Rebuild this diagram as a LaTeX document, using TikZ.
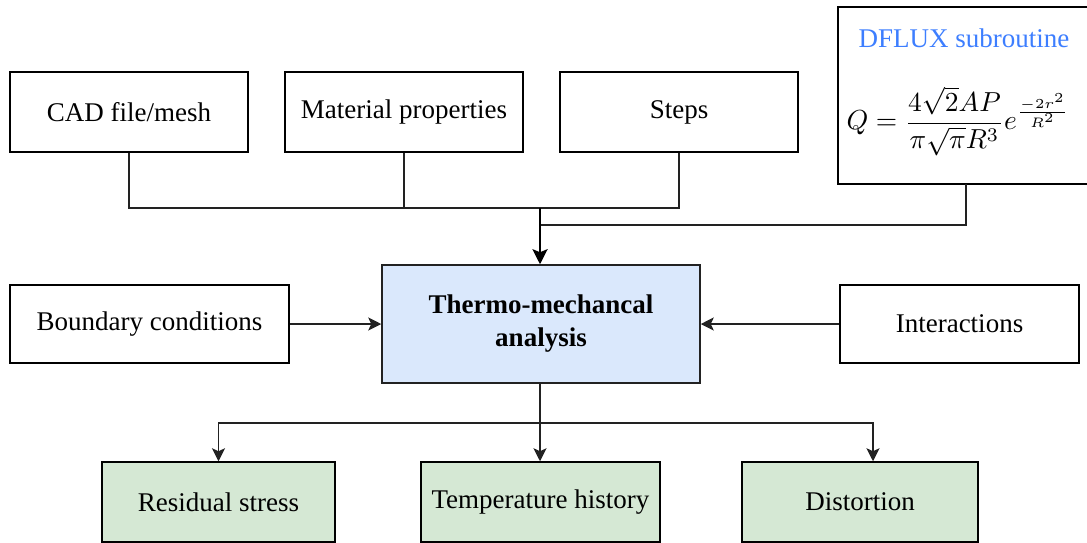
\documentclass[tikz,border=0pt]{standalone}
\usepackage{fontspec}
\setmainfont{Liberation Serif}
\usetikzlibrary{arrows.meta}
\definecolor{lineclr}{HTML}{222222}
\definecolor{blueclr}{HTML}{DAE8FC}
\definecolor{greenclr}{HTML}{D5E8D4}
\definecolor{titleclr}{HTML}{3D7EFF}
\begin{document}
\begin{tikzpicture}[x=1pt,y=-1pt,
  box/.style={draw=black,line width=1.5pt,rectangle,align=center,
    font=\fontsize{27}{33}\selectfont,inner sep=0pt},
  inbox/.style={box,minimum width=238pt,minimum height=80pt},
  mainbox/.style={box,fill=blueclr,draw=lineclr,minimum width=318pt,minimum height=118pt,
    font=\fontsize{27}{33}\selectfont\bfseries},
  outbox/.style={box,fill=greenclr,minimum height=80pt},
  link/.style={draw=lineclr,line width=1.6pt},
  arr/.style={link,-{Stealth[length=13pt,width=13pt,inset=3pt]}},
  trunk/.style={draw=black,line width=2.6pt,-{Stealth[length=15pt,width=15pt,inset=3pt]}}
]
\useasboundingbox (0,0) rectangle (1087,542);

% input boxes, top row
\node[inbox] (cad)   at (129,112) {CAD file/mesh};
\node[inbox] (mat)   at (404,112) {Material properties};
\node[inbox] (steps) at (679,112) {Steps};

% heat source subroutine: frame, title and formula
\draw[line width=1.5pt] (838,7) rectangle (1096,184);
\coordinate (dflux) at (966,184);
\node[font=\fontsize{27}{33}\selectfont,text=titleclr,inner sep=0pt] (dtitle) at (964,38) {DFLUX subroutine};
\node[inner sep=0pt] (dform) at (958,121)
  {\scalebox{2.75}{$\displaystyle Q=\frac{4\sqrt{2}AP}{\pi\sqrt{\pi}R^3}e^{\frac{-2r^2}{R^2}}$}};

% central analysis and side inputs
\node[mainbox] (thermo) at (541,324) {Thermo-mechancal\\analysis};
\node[inbox,minimum width=279pt,minimum height=78pt] (bc) at (149.5,324) {Boundary conditions};
\node[inbox,minimum width=239pt,minimum height=78pt] (inter) at (959.5,324) {Interactions};

% results
\node[outbox,minimum width=233pt] (res)  at (218.5,502) {Residual stress};
\node[outbox,minimum width=239pt] (temp) at (540.5,502) {Temperature history};
\node[outbox,minimum width=236pt] (dist) at (860,502) {Distortion};

% junction points
\coordinate (j1) at (540,208);
\coordinate (j2) at (540,225);
\coordinate (j3) at (540,423);

% gathering lines
\draw[link] (cad.south) |- (j1);
\draw[link] (mat.south) |- (j1);
\draw[link] (steps.south) |- (j1);
\draw[link] (dflux) |- (j2);
\draw[trunk] (j1) -- (j1 |- thermo.north);

% side arrows
\draw[arr] (bc.east) -- (thermo.west);
\draw[arr] (inter.west) -- (thermo.east);

% outputs
\draw[link] (thermo.south -| j3) -- (j3);
\draw[arr] (j3) -| (res.north);
\draw[arr] (j3) -- (j3 |- temp.north);
\draw[arr] (j3) -| ([xshift=13pt]dist.north);
\end{tikzpicture}
\end{document}
